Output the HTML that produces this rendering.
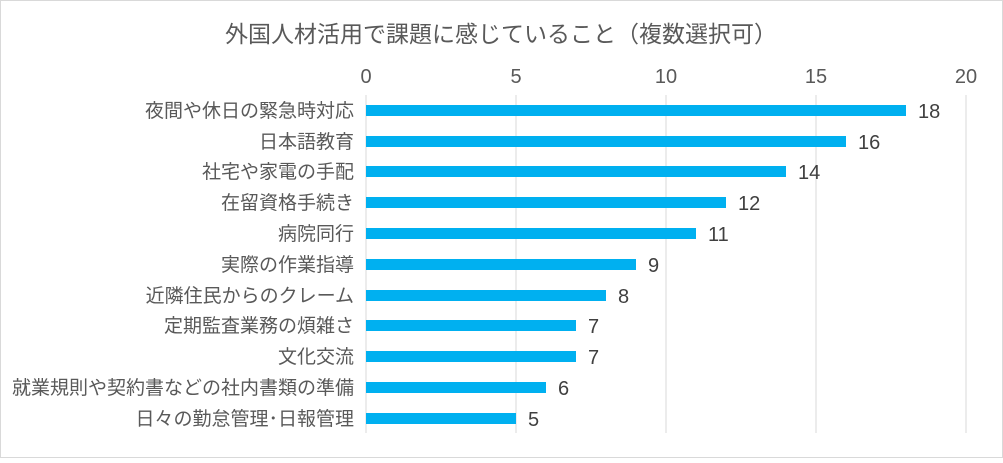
<!DOCTYPE html>
<html><head><meta charset="utf-8"><style>
body{margin:0;background:#fff}
svg text{font-family:"Liberation Sans","Noto Sans CJK JP",sans-serif}
</style></head><body>
<svg width="1003" height="458" xmlns="http://www.w3.org/2000/svg">
<rect x="0.5" y="0.5" width="1002" height="457" fill="#fff" stroke="#d9d9d9"/>
<text x="501" y="42" font-size="23" fill="#595959" text-anchor="middle">外国人材活用で課題に感じていること（複数選択可）</text>
<g stroke="#d9d9d9" stroke-width="1">
<line x1="366" y1="95" x2="366" y2="433"/><line x1="516" y1="95" x2="516" y2="433"/><line x1="666" y1="95" x2="666" y2="433"/><line x1="816" y1="95" x2="816" y2="433"/><line x1="966" y1="95" x2="966" y2="433"/>
</g>
<g font-size="20" fill="#595959" text-anchor="middle">
<text x="366" y="83">0</text><text x="516" y="83">5</text><text x="666" y="83">10</text><text x="816" y="83">15</text><text x="966" y="83">20</text>
</g>
<g fill="#00b0f0">
<rect x="366" y="105" width="540" height="11"/>
<rect x="366" y="136" width="480" height="11"/>
<rect x="366" y="166" width="420" height="11"/>
<rect x="366" y="197" width="360" height="11"/>
<rect x="366" y="228" width="330" height="11"/>
<rect x="366" y="259" width="270" height="11"/>
<rect x="366" y="290" width="240" height="11"/>
<rect x="366" y="320" width="210" height="11"/>
<rect x="366" y="351" width="210" height="11"/>
<rect x="366" y="382" width="180" height="11"/>
<rect x="366" y="413" width="150" height="11"/>
</g>
<g font-size="19" fill="#595959" text-anchor="end">
<text x="354" y="117">夜間や休日の緊急時対応</text>
<text x="354" y="148">日本語教育</text>
<text x="354" y="178">社宅や家電の手配</text>
<text x="354" y="209">在留資格手続き</text>
<text x="354" y="240">病院同行</text>
<text x="354" y="271">実際の作業指導</text>
<text x="354" y="302">近隣住民からのクレーム</text>
<text x="354" y="332">定期監査業務の煩雑さ</text>
<text x="354" y="363">文化交流</text>
<text x="354" y="394">就業規則や契約書などの社内書類の準備</text>
<text x="354" y="425">日々の勤怠管理･日報管理</text>
</g>
<g font-size="20" fill="#404040">
<text x="918" y="118">18</text>
<text x="858" y="149">16</text>
<text x="798" y="179">14</text>
<text x="738" y="210">12</text>
<text x="708" y="241">11</text>
<text x="648" y="272">9</text>
<text x="618" y="303">8</text>
<text x="588" y="333">7</text>
<text x="588" y="364">7</text>
<text x="558" y="395">6</text>
<text x="528" y="426">5</text>
</g>
</svg>
</body></html>
